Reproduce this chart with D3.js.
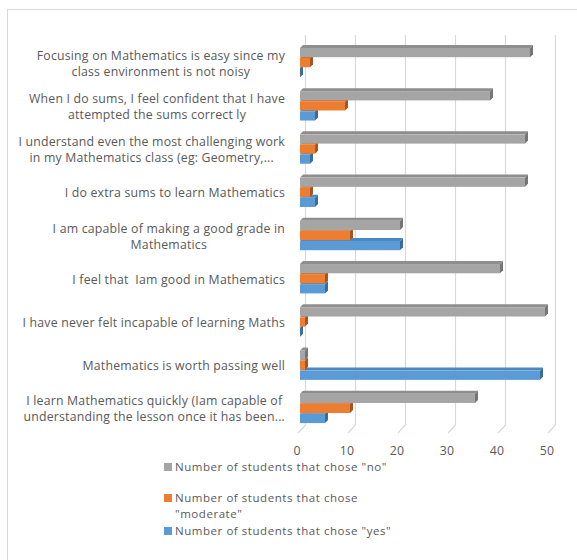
<!DOCTYPE html>
<html><head><meta charset="utf-8">
<script src="https://cdn.jsdelivr.net/npm/d3@7"></script>
<style>
body{margin:0;background:#fff}
text{font-family:"Open Sans",sans-serif;fill:#595959;white-space:pre}
</style>
</head><body><svg id="c" width="577" height="560"></svg>
<script>
const categories = [
  "Focusing on Mathematics is easy since my\nclass environment is not noisy",
  "When I do sums, I feel confident that I have\nattempted the sums correct ly",
  "I understand even the most challenging work\nin my Mathematics class (eg: Geometry,...",
  "I do extra sums to learn Mathematics",
  "I am capable of making a good grade in\nMathematics",
  "I feel that  Iam good in Mathematics",
  "I have never felt incapable of learning Maths",
  "Mathematics is worth passing well",
  "I learn Mathematics quickly (Iam capable of\nunderstanding the lesson once it has been..."
];
const seriesNames = ['Number of students that chose "no"', 'Number of students that chose "moderate"', 'Number of students that chose "yes"'];
const noValues = [46, 38, 45, 45, 20, 40, 49, 1, 35];
const moderateValues = [2, 9, 3, 2, 10, 5, 1, 1, 10];
const yesValues = [0, 3, 2, 3, 20, 5, 0, 48, 5];
const xTicks = [0, 10, 20, 30, 40, 50];

const seriesValues = [noValues, moderateValues, yesValues];
const colors = [
  {front:"#a5a5a5", top:"#8e8e8e", side:"#767676"},
  {front:"#ed7d31", top:"#d26a24", side:"#a85520"},
  {front:"#5b9bd5", top:"#4b88c0", side:"#3a6d9c"}
];

const svg = d3.select("#c");
svg.append("rect").attr("x",7.5).attr("y",9.5).attr("width",700).attr("height",700)
  .attr("fill","#fff").attr("stroke","#d9d9d9");

const x = d3.scaleLinear().domain([0,50]).range([300,550]);
const y0 = d3.scaleBand().domain(categories).range([41,430]).paddingInner(0.32).paddingOuter(0.16);
const y1 = d3.scaleBand().domain(d3.range(seriesNames.length)).range([0,y0.bandwidth()]).paddingInner(0.08);
const D = 3, BX = 5, GT = 35, GB = 425;

const g = svg.append("g");
xTicks.forEach(v => {
  g.append("path").attr("d", `M${x(v)+BX+0.5},${GT}V${GB}L${x(v)-2},${GB+8}`)
   .attr("fill","none").attr("stroke","#d9d9d9").attr("stroke-width",1.2);
  svg.append("text").attr("x",x(v)-3).attr("y",455).attr("text-anchor","middle")
   .attr("font-size","12.3px").attr("letter-spacing","0.2px").text(v);
});

const bars = svg.append("g");
categories.forEach((c,i) => {
  for (let s = seriesNames.length-1; s >= 0; s--) {
    const v = seriesValues[s][i];
    const x0 = x(0), x1 = x(v);
    const yt = y0(c) + y1(s), h = y1.bandwidth();
    const col = colors[s];
    const grp = bars.append("g");
    if (x1 > x0) {
      grp.append("path").attr("d",`M${x0},${yt}L${x0+D},${yt-D}L${x1+D},${yt-D}L${x1},${yt}Z`).attr("fill",col.top);
      grp.append("rect").attr("x",x0).attr("y",yt).attr("width",x1-x0).attr("height",h).attr("fill",col.front);
    }
    grp.append("path").attr("d",`M${x1},${yt}L${x1+D},${yt-D}L${x1+D},${yt+h-D}L${x1},${yt+h}Z`).attr("fill",col.side);
  }
});

const lab = svg.append("g");
categories.forEach(c => {
  const lines = c.split("\n");
  const cy = y0(c) + y0.bandwidth()/2 + 1;
  const t = lab.append("text").attr("font-size","12.3px").attr("letter-spacing","0.2px").attr("text-anchor","middle");
  const lh = 16;
  const spans = lines.map((ln,k) => t.append("tspan").attr("y", cy + (k - (lines.length-1)/2)*lh + 4).text(ln));
  const w = d3.max(spans, sp => sp.node().getComputedTextLength());
  spans.forEach(sp => sp.attr("x", 285 - w/2));
});

const legendLines = [[seriesNames[0]], ['Number of students that chose', '"moderate"'], [seriesNames[2]]];
const legY = [467, 498, 531];
legendLines.forEach((ls,s) => {
  svg.append("rect").attr("x",164).attr("y",legY[s]-4).attr("width",8).attr("height",8).attr("fill",colors[s].front);
  ls.forEach((ln,k) => svg.append("text").attr("x",175).attr("y",legY[s]+4+k*16).attr("font-size","11.5px")
    .attr("letter-spacing","0.55px").text(ln));
});
</script>
</body></html>
